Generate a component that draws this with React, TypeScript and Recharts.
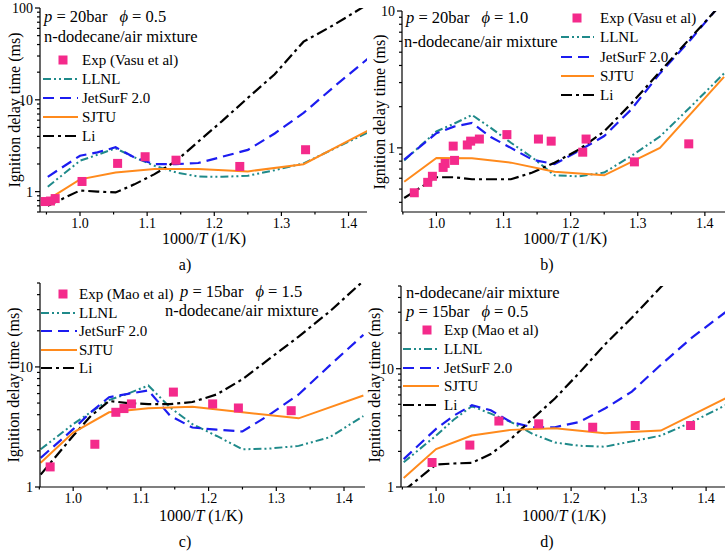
import React from 'react';
import { ComposedChart, Line, Scatter, XAxis, YAxis } from 'recharts';

const FONT = '"Liberation Serif", "Times New Roman", Times, serif';

// simulation grid (1000/T), and SJTU grid
const simX = [0.952, 1.0, 1.026, 1.053, 1.081, 1.111, 1.143, 1.176, 1.212, 1.25, 1.29, 1.333, 1.379, 1.4286];
const sjtuX = [0.952, 1.0, 1.053, 1.111, 1.176, 1.25, 1.333, 1.4286];

// panel a) p=20bar phi=0.5
const aExpX = [0.948, 0.956, 0.963, 1.003, 1.056, 1.097, 1.143, 1.238, 1.336];
const aExpY = [0.78, 0.79, 0.84, 1.29, 2.03, 2.4, 2.2, 1.88, 2.86];
const aLLNL = [1.13, 2.17, 2.52, 2.96, 2.36, 1.91, 1.62, 1.46, 1.45, 1.49, 1.71, 2.03, 2.95, 4.4];
const aJet = [1.45, 2.46, 2.68, 3.04, 2.36, 1.99, 1.99, 2.05, 2.4, 2.85, 4.3, 7.2, 14, 28];
const aLi = [0.7, 1.03, 1.0, 0.98, 1.2, 1.55, 2.15, 3.5, 5.9, 10.5, 19, 43, 66, 110];
const aSJTU = [0.82, 1.36, 1.62, 1.76, 1.76, 1.66, 1.99, 4.6];

// panel b) p=20bar phi=1.0
const bExpX = [0.967, 0.987, 0.994, 1.01, 1.013, 1.025, 1.027, 1.046, 1.051, 1.064, 1.105, 1.152, 1.171, 1.218, 1.223, 1.295, 1.376];
const bExpY = [0.47, 0.56, 0.62, 0.72, 0.77, 1.03, 0.81, 1.05, 1.12, 1.16, 1.25, 1.16, 1.12, 0.93, 1.16, 0.79, 1.07];
const bLLNL = [0.81, 1.32, 1.5, 1.74, 1.4, 1.09, 0.85, 0.63, 0.62, 0.66, 0.87, 1.21, 2.0, 3.5];
const bJet = [0.82, 1.28, 1.43, 1.52, 1.2, 1.0, 0.82, 0.76, 0.95, 1.22, 1.9, 3.5, 6.2, 12];
const bLi = [0.43, 0.61, 0.61, 0.59, 0.59, 0.59, 0.66, 0.78, 0.97, 1.32, 2.1, 3.6, 6.4, 11.8];
const bSJTU = [0.565, 0.845, 0.84, 0.78, 0.67, 0.63, 1.0, 3.3];

// panel c) p=15bar phi=1.5
const cExpX = [0.966, 1.032, 1.063, 1.075, 1.086, 1.148, 1.206, 1.244, 1.322];
const cExpY = [1.47, 2.27, 4.19, 4.5, 4.92, 6.17, 4.92, 4.55, 4.32];
const cLLNL = [2.06, 3.34, 4.2, 5.3, 6.0, 7.0, 4.6, 3.34, 2.66, 2.06, 2.09, 2.2, 2.6, 3.9];
const cJet = [1.75, 3.03, 4.2, 5.6, 5.97, 6.37, 3.93, 3.13, 3.0, 2.9, 4.0, 5.9, 10.3, 18.5];
const cLi = [1.27, 2.67, 3.9, 5.2, 5.0, 4.9, 4.9, 5.1, 5.9, 7.9, 11.7, 17.9, 29, 52];
const cSJTU = [1.59, 2.84, 4.19, 4.52, 4.67, 4.19, 3.73, 5.78];

// panel d) p=15bar phi=0.5
const dExpX = [0.994, 1.05, 1.093, 1.152, 1.232, 1.295, 1.377];
const dExpY = [1.61, 2.26, 3.61, 3.42, 3.2, 3.31, 3.31];
const dLLNL = [1.62, 2.72, 3.7, 4.82, 4.17, 3.54, 2.81, 2.38, 2.23, 2.19, 2.43, 2.72, 3.54, 4.91];
const dJet = [1.72, 3.1, 4.0, 4.91, 4.45, 3.54, 3.2, 3.2, 3.54, 4.6, 6.4, 10.8, 18.3, 30];
const dLi = [0.93, 1.55, 1.58, 1.6, 1.9, 2.55, 3.78, 5.6, 9.2, 16, 27, 49, 89, 160];
const dSJTU = [1.19, 2.09, 2.72, 3.04, 3.14, 2.85, 3.0, 5.6];

const xTicks = [0.95, 1.0, 1.05, 1.1, 1.15, 1.2, 1.25, 1.3, 1.35, 1.4];
const yTicksA = [0.6, 0.7, 0.8, 0.9, 1, 2, 3, 4, 5, 6, 7, 8, 9, 10, 20, 30, 40, 50, 60, 70, 80, 90, 100];
const yTicksB = [0.4, 0.5, 0.6, 0.7, 0.8, 0.9, 1, 2, 3, 4, 5, 6, 7, 8, 9, 10];
const yTicksCD = [1, 2, 3, 4, 5, 6, 7, 8, 9, 10, 20, 30, 40, 50];

const COL = { exp: '#f42a8b', llnl: '#1f8a8a', jet: '#1c1cf0', sjtu: '#ff8a1c', li: '#000000' };
const DASH = { llnl: '8 3 2 3 2 3', jet: '11 6', li: '11 4 3 4' };

const pts = (xs: number[], ys: number[]) => xs.map((x, i) => ({ x, y: ys[i] }));

const XTick = (props: any) => {
  const { x, y, payload } = props;
  const v = payload.value as number;
  const major = Math.abs(v * 10 - Math.round(v * 10)) < 1e-6;
  const ay = y - 8;
  return (
    <g>
      <line x1={x} x2={x} y1={ay} y2={ay + (major ? 4 : 2.5)} stroke="#000" strokeWidth={1.2} />
      {major && (
        <text x={x} y={ay + 16} textAnchor="middle" fontFamily={FONT} fontSize={14} fill="#000">
          {v.toFixed(1)}
        </text>
      )}
    </g>
  );
};

const YTick = (props: any) => {
  const { x, y, payload } = props;
  const v = payload.value as number;
  const lg = Math.log10(v);
  const major = Math.abs(lg - Math.round(lg)) < 1e-6;
  const ax = x + 8;
  return (
    <g>
      <line x1={ax} x2={ax - (major ? 5 : 3)} y1={y} y2={y} stroke="#000" strokeWidth={1.2} />
      {major && (
        <text x={ax - 7} y={y + 5} textAnchor="end" fontFamily={FONT} fontSize={14} fill="#000">
          {String(v)}
        </text>
      )}
    </g>
  );
};

const Square = (props: any) => {
  const { cx, cy } = props;
  if (cx == null || cy == null) return null;
  return <rect x={cx - 4.5} y={cy - 4.5} width={9} height={9} fill={COL.exp} />;
};

type PanelProps = {
  x0: number; L: number; R: number; T: number; B: number;
  xDomain: [number, number]; yDomain: [number, number]; yTicks: number[];
  exp: { x: number; y: number }[];
  llnl: number[]; jet: number[]; li: number[]; sjtu: number[];
};

function Panel(p: PanelProps) {
  const padT = 14;
  const padR = 2;
  const xh = 30;
  const width = p.R - p.x0 + padR;
  const height = p.B - p.T + padT + xh;
  const ax = { xAxisId: 'b', yAxisId: 'l' };
  return (
    <div style={{ position: 'absolute', left: p.x0, top: p.T - padT }}>
      <ComposedChart width={width} height={height} margin={{ top: padT, right: padR, left: 0, bottom: 0 }}>
        <XAxis xAxisId="b" type="number" dataKey="x" domain={p.xDomain} allowDataOverflow ticks={xTicks}
          interval={0} tickSize={6} tickMargin={2} tickLine={false} height={xh}
          axisLine={{ stroke: '#000', strokeWidth: 1.2 }} tick={<XTick />} />
        <XAxis xAxisId="t" orientation="top" type="number" domain={p.xDomain} allowDataOverflow height={0}
          tick={false} tickLine={false} axisLine={{ stroke: '#000', strokeWidth: 1.2 }} />
        <YAxis yAxisId="l" type="number" scale="log" domain={p.yDomain} allowDataOverflow ticks={p.yTicks}
          interval={0} tickSize={6} tickMargin={2} tickLine={false} width={p.L - p.x0}
          axisLine={{ stroke: '#000', strokeWidth: 1.2 }} tick={<YTick />} />
        <YAxis yAxisId="r" orientation="right" type="number" scale="log" domain={p.yDomain} allowDataOverflow
          width={0} tick={false} tickLine={false} axisLine={{ stroke: '#000', strokeWidth: 1.2 }} />
        <Line {...ax} data={pts(simX, p.llnl)} dataKey="y" stroke={COL.llnl} strokeWidth={2}
          strokeDasharray={DASH.llnl} dot={false} isAnimationActive={false} />
        <Line {...ax} data={pts(simX, p.jet)} dataKey="y" stroke={COL.jet} strokeWidth={2.2}
          strokeDasharray={DASH.jet} dot={false} isAnimationActive={false} />
        <Line {...ax} data={pts(simX, p.li)} dataKey="y" stroke={COL.li} strokeWidth={2.2}
          strokeDasharray={DASH.li} dot={false} isAnimationActive={false} />
        <Line {...ax} data={pts(sjtuX, p.sjtu)} dataKey="y" stroke={COL.sjtu} strokeWidth={2}
          dot={false} isAnimationActive={false} />
        <Scatter {...ax} data={p.exp} dataKey="y" shape={<Square />} isAnimationActive={false} />
      </ComposedChart>
    </div>
  );
}

const ANN = 16.5;

const Phi = ({ x, y, p, phi }: { x: number; y: number; p: string; phi: string }) => (
  <text x={x} y={y} fontFamily={FONT} fontSize={ANN} fill="#000">
    <tspan fontStyle="italic">p</tspan>
    <tspan> = {p}bar</tspan>
    <tspan dx={12} fontStyle="italic">ϕ</tspan>
    <tspan> = {phi}</tspan>
  </text>
);

function Legend({ lx1, lx2, sq, tx, ys, expLabel }: { lx1: number; lx2: number; sq: number; tx: number; ys: number[]; expLabel: string }) {
  const items = [
    { label: 'LLNL', color: COL.llnl, dash: DASH.llnl, w: 2 },
    { label: 'JetSurF 2.0', color: COL.jet, dash: DASH.jet, w: 2.2 },
    { label: 'SJTU', color: COL.sjtu, dash: undefined, w: 2 },
    { label: 'Li', color: COL.li, dash: DASH.li, w: 2.2 },
  ];
  return (
    <g>
      <rect x={sq - 4.5} y={ys[0] - 4.5} width={9} height={9} fill={COL.exp} />
      <text x={tx} y={ys[0] + 5} fontFamily={FONT} fontSize={15} fill="#000">{expLabel}</text>
      {items.map((it, i) => (
        <g key={it.label}>
          <line x1={lx1} x2={lx2} y1={ys[i + 1]} y2={ys[i + 1]} stroke={it.color} strokeWidth={it.w} strokeDasharray={it.dash} />
          <text x={tx} y={ys[i + 1] + 5} fontFamily={FONT} fontSize={15} fill="#000">{it.label}</text>
        </g>
      ))}
    </g>
  );
}

const XTitle = ({ cx, y }: { cx: number; y: number }) => (
  <text x={cx} y={y} textAnchor="middle" fontFamily={FONT} fontSize={16} fill="#000">
    1000/<tspan fontStyle="italic">T</tspan> (1/K)
  </text>
);
const YTitle = ({ cx, cy }: { cx: number; cy: number }) => (
  <text transform={`translate(${cx},${cy}) rotate(-90)`} textAnchor="middle" dy="0.35em" fontFamily={FONT} fontSize={16} fill="#000">
    Ignition delay time (ms)
  </text>
);
const Cap = ({ x, y, t }: { x: number; y: number; t: string }) => (
  <text x={x} y={y} textAnchor="middle" fontFamily={FONT} fontSize={16} fill="#000">{t}</text>
);
const Mix = ({ x, y }: { x: number; y: number }) => (
  <text x={x} y={y} fontFamily={FONT} fontSize={ANN} fill="#000">n-dodecane/air mixture</text>
);

export default function App() {
  return (
    <div style={{ position: 'absolute', left: 0, top: 0, width: 728, height: 552, background: '#fff', overflow: 'hidden' }}>
      <Panel x0={0} L={40} R={367} T={8} B={212} xDomain={[0.9404, 1.4275]} yDomain={[0.6, 100]} yTicks={yTicksA}
        exp={pts(aExpX, aExpY)} llnl={aLLNL} jet={aJet} li={aLi} sjtu={aSJTU} />
      <Panel x0={364} L={402} R={725} T={11} B={212} xDomain={[0.9487, 1.43]} yDomain={[0.34, 10]} yTicks={yTicksB}
        exp={pts(bExpX, bExpY)} llnl={bLLNL} jet={bJet} li={bLi} sjtu={bSJTU} />
      <Panel x0={0} L={40} R={365} T={283} B={487} xDomain={[0.951, 1.431]} yDomain={[1, 50]} yTicks={yTicksCD}
        exp={pts(cExpX, cExpY)} llnl={cLLNL} jet={cJet} li={cLi} sjtu={cSJTU} />
      <Panel x0={364} L={401} R={725} T={286} B={487} xDomain={[0.948, 1.428]} yDomain={[1, 50]} yTicks={yTicksCD}
        exp={pts(dExpX, dExpY)} llnl={dLLNL} jet={dJet} li={dLi} sjtu={dSJTU} />
      <svg width={728} height={552} style={{ position: 'absolute', left: 0, top: 0, pointerEvents: 'none' }}>
        {/* panel a */}
        <Phi x={44} y={22} p="20" phi="0.5" />
        <Mix x={44} y={42} />
        <Legend lx1={43} lx2={78} sq={63} tx={82} ys={[60, 79, 98, 117, 136]} expLabel="Exp (Vasu et al)" />
        <XTitle cx={204} y={244} />
        <YTitle cx={14} cy={110} />
        <Cap x={185} y={270} t="a)" />
        {/* panel b */}
        <Phi x={406} y={23} p="20" phi="1.0" />
        <Mix x={404} y={47} />
        <Legend lx1={561} lx2={594} sq={577} tx={600} ys={[18, 37, 57, 76, 95]} expLabel="Exp (Vasu et al)" />
        <XTitle cx={565} y={244} />
        <YTitle cx={379} cy={112} />
        <Cap x={547} y={270} t="b)" />
        {/* panel c */}
        <Legend lx1={41} lx2={77} sq={63} tx={79} ys={[294, 313, 331, 350, 368]} expLabel="Exp (Mao et al)" />
        <Phi x={180} y={297} p="15" phi="1.5" />
        <Mix x={165} y={316} />
        <XTitle cx={201} y={521} />
        <YTitle cx={13} cy={385} />
        <Cap x={185} y={547} t="c)" />
        {/* panel d */}
        <Mix x={406} y={298} />
        <Phi x={406} y={317} p="15" phi="0.5" />
        <Legend lx1={403} lx2={439} sq={427} tx={444} ys={[330, 349, 368, 386, 405]} expLabel="Exp (Mao et al)" />
        <XTitle cx={564} y={521} />
        <YTitle cx={374} cy={385} />
        <Cap x={547} y={547} t="d)" />
      </svg>
    </div>
  );
}
